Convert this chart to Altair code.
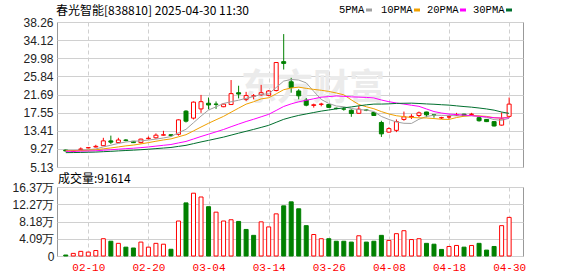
import json
import altair as alt
import pandas as pd

# ---------------- data ----------------
dates = ["02-05", "02-06", "02-07", "02-10", "02-11", "02-12", "02-13", "02-14", "02-17", "02-18",
         "02-19", "02-20", "02-21", "02-24", "02-25", "02-26", "02-27", "02-28", "03-03", "03-04",
         "03-05", "03-06", "03-07", "03-10", "03-11", "03-12", "03-13", "03-14", "03-17", "03-18",
         "03-19", "03-20", "03-21", "03-24", "03-25", "03-26", "03-27", "03-28", "03-31", "04-01",
         "04-02", "04-03", "04-07", "04-08", "04-09", "04-10", "04-11", "04-14", "04-15", "04-16",
         "04-17", "04-18", "04-21", "04-22", "04-23", "04-24", "04-25", "04-28", "04-29", "04-30"]

opens = [9.0, 8.7, 9.1, 9.5, 9.7, 10.0, 11.1, 10.7, 11.3, 11.0,
         10.7, 11.6, 11.8, 12.4, 12.5, 12.6, 17.9, 16.3, 18.4, 19.7,
         19.5, 18.9, 19.4, 22.1, 20.6, 21.3, 21.6, 21.5, 22.6, 29.2,
         24.6, 22.5, 20.4, 19.2, 19.45, 19.4, 18.55, 18.4, 18.1, 17.4,
         18.15, 17.6, 15.3, 13.1, 13.5, 16.0, 16.5, 16.9, 17.7, 17.05,
         16.35, 16.55, 17.0, 17.2, 17.15, 16.4, 16.0, 15.5, 14.7, 16.7]
highs = [9.1, 8.9, 9.6, 9.65, 10.2, 11.8, 12.3, 11.8, 11.5, 11.05,
         11.6, 12.1, 12.8, 13.4, 12.6, 16.0, 18.1, 20.1, 21.6, 21.0,
         20.1, 19.6, 25.0, 23.7, 22.3, 21.8, 23.9, 22.7, 29.1, 35.5,
         25.5, 22.9, 20.9, 19.6, 19.8, 19.5, 18.7, 18.85, 18.3, 19.1,
         18.3, 17.7, 15.7, 14.2, 16.0, 17.8, 17.2, 17.8, 17.75, 17.1,
         16.6, 16.9, 17.5, 17.3, 17.5, 16.8, 16.1, 15.6, 17.6, 21.0]
lows = [8.7, 8.6, 9.0, 9.4, 9.6, 9.95, 10.4, 10.6, 11.0, 10.6,
        10.5, 11.4, 11.6, 12.3, 12.1, 12.3, 15.3, 16.0, 17.5, 18.3,
        18.4, 18.8, 19.3, 20.8, 20.2, 20.6, 21.4, 21.3, 22.4, 27.4,
        22.1, 20.6, 19.0, 18.7, 19.0, 18.6, 18.3, 18.0, 16.6, 17.3,
        17.9, 16.8, 12.0, 13.0, 13.1, 15.7, 16.1, 16.5, 16.5, 16.4,
        16.1, 16.1, 16.8, 16.8, 16.9, 15.5, 15.4, 14.4, 14.6, 16.4]
closes = [8.8, 8.85, 9.25, 9.55, 9.85, 11.1, 10.8, 11.3, 11.2, 10.7,
          11.5, 11.7, 12.4, 12.5, 12.3, 15.9, 15.6, 19.95, 20.05, 19.3,
          19.45, 19.5, 21.9, 21.8, 21.45, 21.4, 22.1, 22.5, 29.0, 28.8,
          23.3, 21.4, 19.25, 19.35, 19.5, 18.75, 18.5, 18.35, 17.35, 18.35,
          18.1, 16.9, 12.7, 13.9, 15.5, 16.6, 16.7, 17.5, 17.05, 17.0,
          16.4, 16.6, 17.05, 16.9, 17.2, 15.7, 15.5, 14.5, 16.1, 19.5]

# volume in 万 shares, and the colour of each volume bar as read (u = red, d = green)
volumes = [0.23, 0.62, 1.1, 0.93, 1.3, 4.1, 3.5, 3.0, 2.1, 1.9,
           3.3, 2.1, 3.0, 2.8, 1.6, 8.3, 12.6, 14.9, 14.0, 11.7,
           10.4, 8.3, 8.6, 8.2, 6.3, 4.9, 8.1, 6.9, 10.0, 11.9,
           12.85, 11.2, 7.2, 5.1, 4.1, 4.1, 3.5, 3.5, 3.3, 4.8,
           3.3, 3.5, 4.9, 3.7, 5.3, 6.0, 3.9, 4.1, 3.0, 2.8,
           1.56, 2.26, 2.5, 2.1, 2.5, 3.0, 1.4, 2.26, 7.2, 9.1614]
vol_dir = list("duuuuududd" "uuuududuud" "uuuddduuud" "ddduuddddu"
               "ddduuuuudd" "duududdduu")
last_volume = 91614

# moving averages
ma5 = [8.96, 8.93, 8.98, 9.09, 9.26, 9.72, 10.11, 10.52, 10.85, 11.02,
       11.10, 11.28, 11.50, 11.76, 12.08, 12.96, 13.74, 15.25, 16.76, 18.16,
       18.87, 19.65, 20.04, 20.39, 20.82, 21.21, 21.73, 21.85, 23.29, 24.76,
       25.14, 25.00, 24.35, 22.42, 20.56, 19.65, 19.07, 18.89, 18.49, 18.26,
       18.13, 17.81, 16.68, 15.99, 15.42, 15.12, 15.08, 16.04, 16.67, 16.97,
       16.93, 16.91, 16.82, 16.79, 16.83, 16.69, 16.47, 15.96, 15.80, 16.26]
ma10 = [8.85, 8.85, 8.89, 8.96, 9.06, 9.28, 9.48, 9.72, 9.96, 10.14,
        10.41, 10.70, 11.01, 11.31, 11.55, 12.03, 12.51, 13.38, 14.26, 15.12,
        15.92, 16.70, 17.65, 18.58, 19.49, 20.04, 20.69, 20.95, 21.84, 22.79,
        23.18, 23.37, 23.10, 22.86, 22.66, 22.40, 22.04, 21.62, 20.46, 19.41,
        18.89, 18.44, 17.79, 17.24, 16.84, 16.63, 16.45, 16.36, 16.33, 16.20,
        16.03, 16.00, 16.43, 16.73, 16.90, 16.81, 16.69, 16.39, 16.30, 16.55]
ma20 = [8.71, 8.71, 8.74, 8.78, 8.84, 8.96, 9.07, 9.20, 9.32, 9.42,
        9.56, 9.71, 9.90, 10.09, 10.27, 10.63, 10.97, 11.53, 12.10, 12.63,
        13.16, 13.70, 14.33, 14.94, 15.52, 16.04, 16.60, 17.16, 18.05, 18.96,
        19.55, 20.03, 20.37, 20.72, 21.08, 21.22, 21.36, 21.28, 21.15, 21.10,
        21.03, 20.90, 20.44, 20.05, 19.75, 19.51, 19.24, 18.99, 18.39, 17.80,
        17.46, 17.22, 17.11, 16.99, 16.87, 16.72, 16.57, 16.38, 16.31, 16.37]
ma30 = [8.41, 8.43, 8.46, 8.50, 8.54, 8.63, 8.71, 8.81, 8.90, 8.98,
        9.08, 9.19, 9.33, 9.46, 9.59, 9.84, 10.08, 10.47, 10.86, 11.22,
        11.59, 11.96, 12.41, 12.86, 13.29, 13.72, 14.18, 14.65, 15.34, 16.02,
        16.50, 16.92, 17.25, 17.58, 17.90, 18.16, 18.41, 18.65, 18.85, 19.11,
        19.33, 19.50, 19.51, 19.56, 19.66, 19.69, 19.72, 19.64, 19.54, 19.47,
        19.36, 19.27, 19.10, 18.94, 18.80, 18.61, 18.39, 18.12, 17.69, 17.38]

ma_names = ["5PMA", "10PMA", "20PMA", "30PMA"]
ma_colors = ["#a0a0a0", "#f0a000", "#ff00ff", "#006f2e"]

price_ticks = [5.13, 9.27, 13.41, 17.55, 21.69, 25.84, 29.98, 34.12, 38.26]
vol_ticks = [0, 4.09, 8.18, 12.27, 16.37]
date_tick_idx = [3, 11, 19, 27, 35, 43, 51, 59]

title_text = "春光智能[838810] 2025-04-30 11:30"
watermark = "东方财富"

# ---------------- tables ----------------
n = len(dates)
df = pd.DataFrame({"i": list(range(n)), "date": dates, "open": opens, "high": highs,
                   "low": lows, "close": closes, "vol": volumes, "vdir": vol_dir})
df["cdir"] = ["u" if c >= o else "d" for o, c in zip(opens, closes)]

ma_df = pd.concat([pd.DataFrame({"i": list(range(n)), "ma": name, "v": vals})
                   for name, vals in zip(ma_names, [ma5, ma10, ma20, ma30])])

RED = "#ff0000"
GREEN = "#008000"
W = 466
H_PRICE = 145
H_VOL = 69
LEFT = 56   # room for the y labels
TOP = 21    # room for the title row

xscale = alt.Scale(domain=[-0.5, 60.18], nice=False, zero=False)
stroke_scale = alt.Scale(domain=["u", "d"], range=[RED, GREEN])
fill_scale = alt.Scale(domain=["u", "d"], range=["#ffffff", GREEN])
pscale = alt.Scale(domain=[5.13, 38.26], nice=False, zero=False)
vscale = alt.Scale(domain=[0, 16.37], nice=False, zero=True)

grid_dash = [4, 3]
GRID_COLOR = "#d0d0d0"

x_price = alt.X("i:Q", scale=xscale,
                axis=alt.Axis(values=date_tick_idx, tickCount=20, labels=False, ticks=False,
                              domain=False, grid=True, gridDash=grid_dash, gridColor=GRID_COLOR,
                              title=None))
y_price_axis = alt.Axis(values=price_ticks, tickCount=20, format=".2f", ticks=False, domain=False,
                        grid=True, gridColor=GRID_COLOR, labelFont="Liberation Sans",
                        labelFontSize=12, labelColor="#222222", labelPadding=4, title=None,
                        labelOverlap=False, labelFlush=False)

base = alt.Chart(df)

# invisible anchor fixing the top-left corner of the whole picture
anchor = alt.Chart(pd.DataFrame({"a": [0]})).mark_rect(opacity=0).encode(
    x=alt.value(-LEFT), x2=alt.value(-LEFT + 1), y=alt.value(-TOP), y2=alt.value(-TOP + 1))

wm = alt.Chart(pd.DataFrame({"t": [watermark]})).mark_text(
    font="Noto Sans CJK SC", fontSize=36, fontWeight="bold", color="#ebebeb",
    align="center", baseline="middle").encode(
    x=alt.value(256), y=alt.value(67), text="t:N")

wick = base.mark_rule(strokeWidth=1).encode(
    x=x_price,
    y=alt.Y("low:Q", scale=pscale, axis=y_price_axis),
    y2="high:Q",
    stroke=alt.Stroke("cdir:N", scale=stroke_scale, legend=None))

body = base.mark_bar(size=4, strokeWidth=1).encode(
    x=alt.X("i:Q", scale=xscale),
    y=alt.Y("open:Q", scale=pscale),
    y2="close:Q",
    fill=alt.Fill("cdir:N", scale=fill_scale, legend=None),
    stroke=alt.Stroke("cdir:N", scale=stroke_scale, legend=None))

lines = alt.Chart(ma_df).mark_line(strokeWidth=1, interpolate="linear").encode(
    x=alt.X("i:Q", scale=xscale),
    y=alt.Y("v:Q", scale=pscale),
    color=alt.Color("ma:N", scale=alt.Scale(domain=ma_names, range=ma_colors), legend=None),
    detail="ma:N")

title = alt.Chart(pd.DataFrame({"t": [title_text]})).mark_text(
    font="Noto Sans CJK SC", fontSize=12, color="#000000", align="left", baseline="middle").encode(
    x=alt.value(-1), y=alt.value(-11), text="t:N")

leg_df = pd.DataFrame({"name": ma_names, "color": ma_colors})
leg_offsets = [282, 324, 370, 416]
leg_sq = [309, 357, 403, 449]
leg_layers = []
for k, (name, col) in enumerate(zip(ma_names, ma_colors)):
    leg_layers.append(alt.Chart(leg_df.iloc[[k]]).mark_text(
        font="Liberation Mono", fontSize=10.5, color="#000000", align="left",
        baseline="middle").encode(x=alt.value(leg_offsets[k]), y=alt.value(-12), text="name:N"))
    leg_layers.append(alt.Chart(leg_df.iloc[[k]]).mark_rect(color=col).encode(
        x=alt.value(leg_sq[k]), x2=alt.value(leg_sq[k] + 6),
        y=alt.value(-13.5), y2=alt.value(-10.5)))

price = alt.layer(anchor, wm, wick, body, lines, title, *leg_layers).properties(
    width=W, height=H_PRICE)

# ---------------- volume panel ----------------
vol_label_expr = "datum.value == 0 ? '0' : format(datum.value, '.2f') + '万'"
date_label_expr = json.dumps(dates) + "[datum.value]"

x_vol = alt.X("i:Q", scale=xscale,
              axis=alt.Axis(values=date_tick_idx, tickCount=20, labelExpr=date_label_expr,
                            ticks=False, domain=False, grid=True, gridDash=grid_dash,
                            gridColor=GRID_COLOR, labelColor=RED, labelFont="Liberation Mono",
                            labelFontSize=11, labelPadding=5, labelFlush=False,
                            labelOverlap=False, title=None))

vbars = base.mark_bar(size=4, strokeWidth=1).encode(
    x=x_vol,
    y=alt.Y("vol:Q", scale=vscale,
            axis=alt.Axis(values=vol_ticks, tickCount=20, labelExpr=vol_label_expr, ticks=False,
                          domain=False, grid=True, gridColor=GRID_COLOR,
                          labelFont="Liberation Sans", labelFontSize=12, labelColor="#222222",
                          labelPadding=3, title=None, labelOverlap=False, labelFlush=False)),
    y2=alt.datum(0),
    fill=alt.Fill("vdir:N", scale=fill_scale, legend=None),
    stroke=alt.Stroke("vdir:N", scale=stroke_scale, legend=None))

vol_title = alt.Chart(pd.DataFrame({"t": [f"成交量:{last_volume}"]})).mark_text(
    font="Noto Sans CJK SC", fontSize=12, color="#000000", align="left",
    baseline="alphabetic").encode(x=alt.value(1), y=alt.value(-4), text="t:N")

volume = alt.layer(vbars, vol_title).properties(width=W, height=H_VOL)

chart = alt.vconcat(price, volume, spacing=20, bounds="flush").properties(
    padding={"left": 0, "top": 0, "right": 0, "bottom": 0},
    background="#ffffff",
).configure_view(stroke="#999999", strokeWidth=1).resolve_scale(
    fill="shared", stroke="shared")

chart.save("out.html", embed_options={"renderer": "svg", "actions": False})
